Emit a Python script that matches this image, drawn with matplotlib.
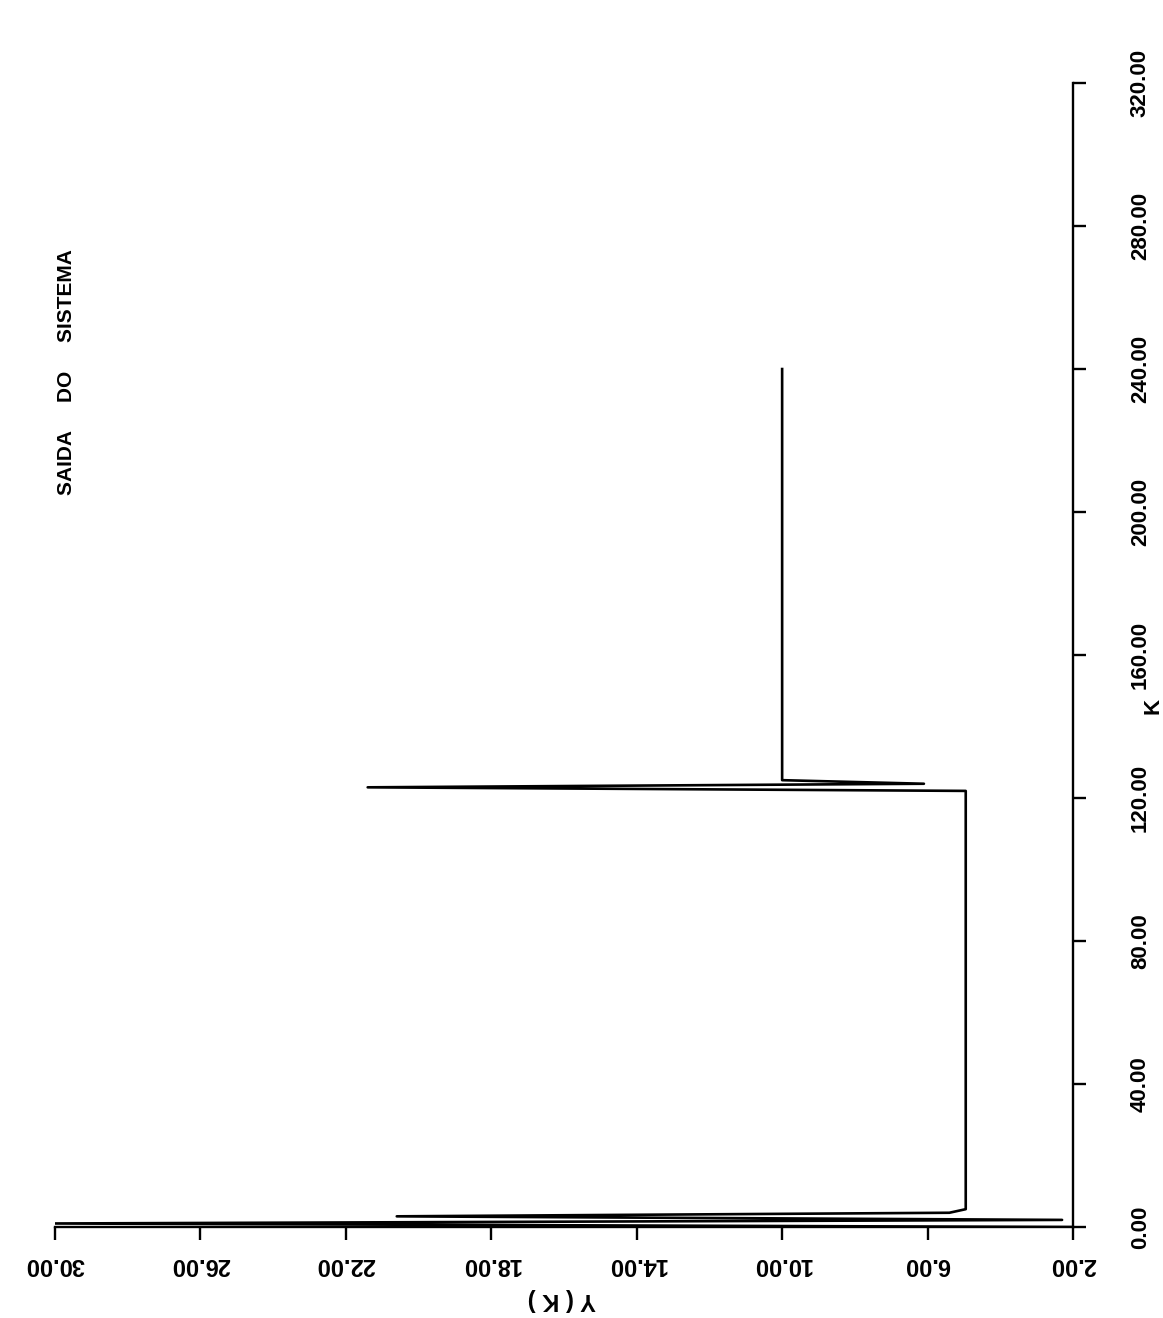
import matplotlib
matplotlib.use("Agg")
import matplotlib.pyplot as plt
from matplotlib.ticker import FormatStrFormatter

# breakpoints of the system output Y(K)
K = [0, 1, 2, 3, 4, 5, 122, 123, 124, 125, 240]
Y = [2.0, 30.0, 2.3, 20.6, 5.4, 4.95, 4.95, 21.4, 6.1, 10.0, 10.0]

xticks = [0, 40, 80, 120, 160, 200, 240, 280, 320]
yticks = [2, 6, 10, 14, 18, 22, 26, 30]

plt.rcParams['font.family'] = ['Liberation Sans', 'DejaVu Sans']

fig = plt.figure(figsize=(11.63, 13.18), dpi=100)
# the original plot was scanned turned 90 degrees: K runs up, Y(K) runs left
ax = fig.add_axes([0.0473, 0.069, 0.8753, 0.868])
ax.plot(Y, K, color='black', lw=1.9)

ax.set_xlim(30, 2)
ax.set_ylim(0, 320)
ax.set_xticks(yticks)
ax.set_yticks(xticks)
ax.xaxis.set_major_formatter(FormatStrFormatter('%.2f'))
ax.yaxis.set_major_formatter(FormatStrFormatter('%.2f'))

ax.spines['top'].set_visible(False)
ax.spines['left'].set_visible(False)
ax.spines['bottom'].set_linewidth(1.7)
ax.spines['right'].set_linewidth(1.7)

ax.yaxis.tick_right()
ax.tick_params(axis='x', direction='out', length=9, width=1.7, pad=10,
               labelsize=17, labelrotation=180)
ax.tick_params(axis='y', direction='out', length=9, width=1.7, pad=32,
               labelsize=16, labelrotation=90)
for t in ax.get_xticklabels() + ax.get_yticklabels():
    t.set_fontweight('bold')
for t in ax.get_yticklabels():
    t.set_va('center')

fig.text(562 / 1163, 1 - 1300 / 1318, 'Y ( K )', rotation=180, ha='center',
         va='center', fontsize=17, fontweight='bold')
fig.text(1153 / 1163, 1 - 706 / 1318, 'K', rotation=90, ha='center',
         va='center', fontsize=16, fontweight='bold')
fig.text(66 / 1163, 1 - 372 / 1318, 'SAIDA     DO     SISTEMA', rotation=90,
         ha='center', va='center', fontsize=15, fontweight='bold')

fig.savefig('out.png', dpi=100)
